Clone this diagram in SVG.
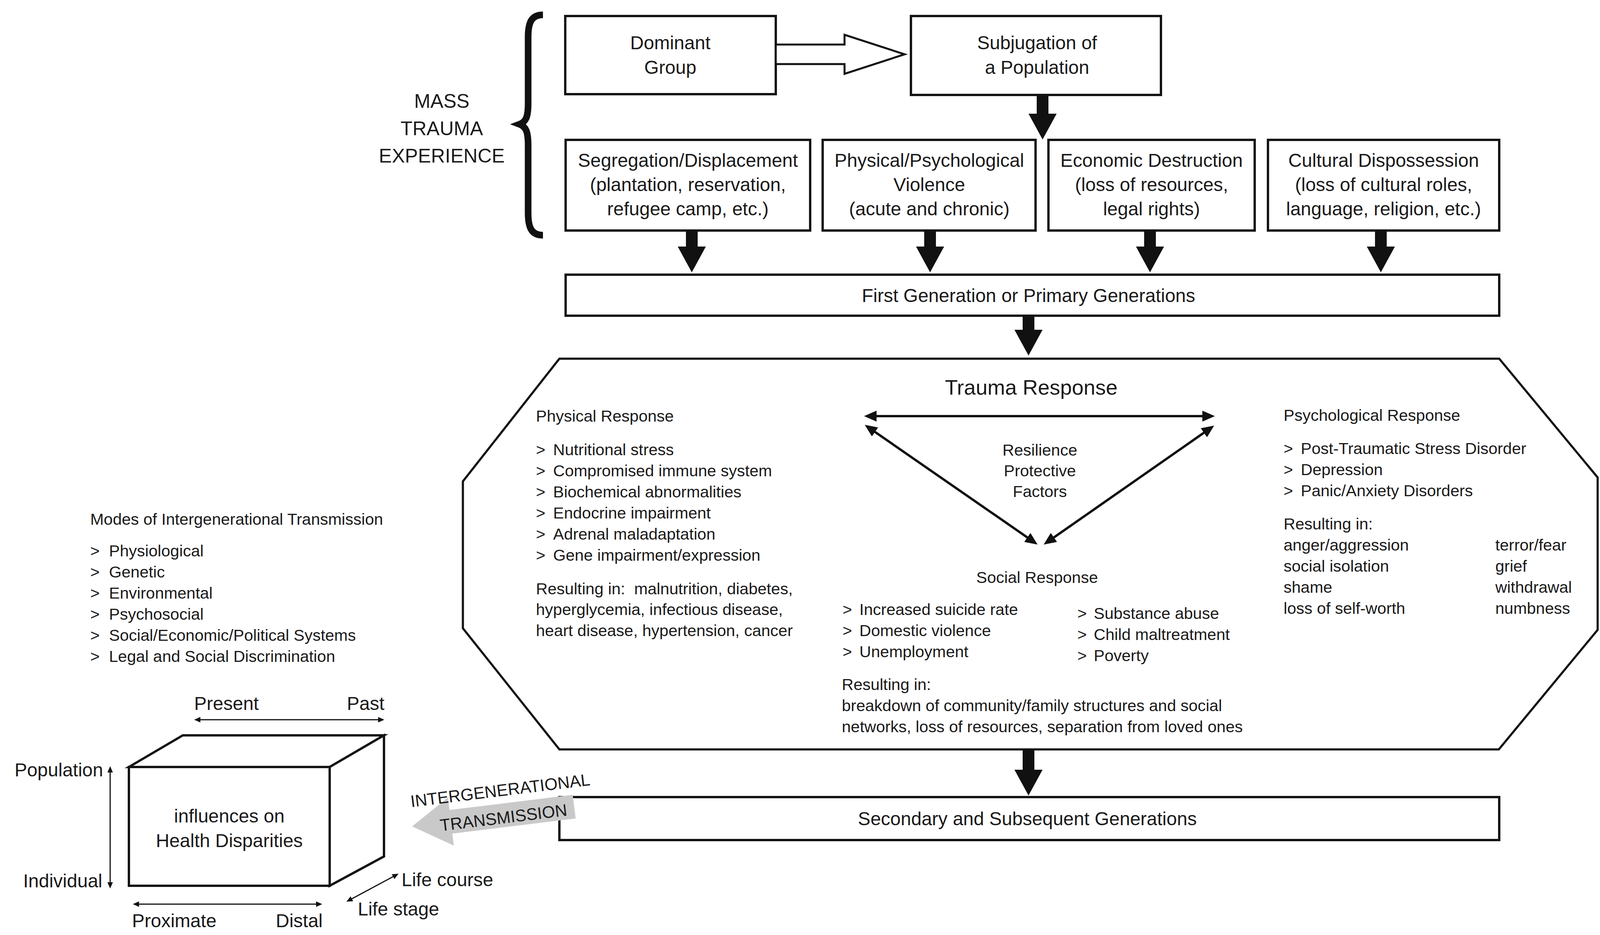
<svg xmlns="http://www.w3.org/2000/svg" width="4110" height="2393" viewBox="0 0 4110 2393">
<style>
.bg{fill:#fff}
.box{fill:#fff;stroke:#141414;stroke-width:6}
.oct{fill:#fff;stroke:#141414;stroke-width:5.5}
.t{font-family:"Liberation Sans",Arial,sans-serif;fill:#1a1a1a}
.bx{font-size:48px;text-anchor:middle}
.bd{font-size:41.5px}
.cb{font-size:48px}
.mid{text-anchor:middle}
.end{text-anchor:end}
.thick{stroke:#111;stroke-width:30;fill:none;marker-end:url(#big)}
.thin{stroke:#111;stroke-width:6;fill:none;marker-start:url(#med);marker-end:url(#med)}
.hair{stroke:#111;stroke-width:3;fill:none;marker-start:url(#sm);marker-end:url(#sm)}
</style>
<defs>
<marker id="big" markerUnits="userSpaceOnUse" markerWidth="66" markerHeight="72" viewBox="0 -36 66 72" refX="2" refY="0" orient="auto"><path d="M0,-36 L66,0 L0,36 Z" fill="#111"/></marker>
<marker id="med" markerUnits="userSpaceOnUse" markerWidth="32" markerHeight="28" viewBox="0 -14 32 28" refX="22" refY="0" orient="auto-start-reverse"><path d="M0,-14 L32,0 L0,14 Z" fill="#111"/></marker>
<marker id="sm" markerUnits="userSpaceOnUse" markerWidth="16" markerHeight="14" viewBox="0 -7 16 14" refX="10" refY="0" orient="auto-start-reverse"><path d="M0,-7 L16,0 L0,7 Z" fill="#111"/></marker>
</defs>
<rect class="bg" x="0" y="0" width="4110" height="2393"/>

<g id="mass-trauma-label">
<path d="M1390,38 C1362,38 1352,55 1352,95 L1352,265 C1352,300 1346,312 1330,318 C1346,324 1352,336 1352,372 L1352,545 C1352,585 1362,602 1390,602" fill="none" stroke="#111" stroke-width="17"/>
<text class="t mid" font-size="50" x="1131" y="276">MASS</text>
<text class="t mid" font-size="50" x="1131" y="346">TRAUMA</text>
<text class="t mid" font-size="50" x="1131" y="416">EXPERIENCE</text>
</g>

<g id="dominant-group">
<rect class="box" x="1447" y="41" width="539" height="200"/>
<text class="t bx" x="1716" y="126">Dominant</text>
<text class="t bx" x="1716" y="189">Group</text>
</g>

<g id="subjugation">
<rect class="box" x="2332" y="41" width="640" height="202"/>
<text class="t bx" x="2655" y="126">Subjugation of</text>
<text class="t bx" x="2655" y="189">a Population</text>
</g>

<g id="segregation">
<rect class="box" x="1448" y="358" width="626" height="232"/>
<text class="t bx" x="1761" y="427">Segregation/Displacement</text>
<text class="t bx" x="1761" y="489">(plantation, reservation,</text>
<text class="t bx" x="1761" y="551">refugee camp, etc.)</text>
</g>

<g id="violence">
<rect class="box" x="2106" y="358" width="545" height="232"/>
<text class="t bx" x="2379" y="427">Physical/Psychological</text>
<text class="t bx" x="2379" y="489">Violence</text>
<text class="t bx" x="2379" y="551">(acute and chronic)</text>
</g>

<g id="economic">
<rect class="box" x="2684" y="358" width="528" height="232"/>
<text class="t bx" x="2948" y="427">Economic Destruction</text>
<text class="t bx" x="2948" y="489">(loss of resources,</text>
<text class="t bx" x="2948" y="551">legal rights)</text>
</g>

<g id="cultural">
<rect class="box" x="3246" y="358" width="592" height="232"/>
<text class="t bx" x="3542" y="427">Cultural Dispossession</text>
<text class="t bx" x="3542" y="489">(loss of cultural roles,</text>
<text class="t bx" x="3542" y="551">language, religion, etc.)</text>
</g>

<g id="first-generation">
<rect class="box" x="1448" y="703" width="2390" height="105"/>
<text class="t bx" x="2633" y="773">First Generation or Primary Generations</text>
</g>

<g id="trauma-response">
<polygon class="oct" points="1432,918 3838,918 4090,1222 4090,1612 3837,1918 1432,1918 1185,1608 1185,1232"/>
<text class="t mid" font-size="54" x="2640" y="1010">Trauma Response</text>

<text class="t bd" x="1372" y="1079">Physical Response</text>
<text class="t bd"><tspan x="1372" y="1165">&gt;</tspan><tspan x="1416" y="1165">Nutritional stress</tspan></text>
<text class="t bd"><tspan x="1372" y="1219">&gt;</tspan><tspan x="1416" y="1219">Compromised immune system</tspan></text>
<text class="t bd"><tspan x="1372" y="1273">&gt;</tspan><tspan x="1416" y="1273">Biochemical abnormalities</tspan></text>
<text class="t bd"><tspan x="1372" y="1327">&gt;</tspan><tspan x="1416" y="1327">Endocrine impairment</tspan></text>
<text class="t bd"><tspan x="1372" y="1381">&gt;</tspan><tspan x="1416" y="1381">Adrenal maladaptation</tspan></text>
<text class="t bd"><tspan x="1372" y="1435">&gt;</tspan><tspan x="1416" y="1435">Gene impairment/expression</tspan></text>
<text class="t bd" x="1372" y="1521">Resulting in:&#160; malnutrition, diabetes,</text>
<text class="t bd" x="1372" y="1574">hyperglycemia, infectious disease,</text>
<text class="t bd" x="1372" y="1628">heart disease, hypertension, cancer</text>

<text class="t bd mid" x="2662" y="1166">Resilience</text>
<text class="t bd mid" x="2662" y="1219">Protective</text>
<text class="t bd mid" x="2662" y="1272">Factors</text>

<text class="t bd" x="3286" y="1077">Psychological Response</text>
<text class="t bd"><tspan x="3286" y="1162">&gt;</tspan><tspan x="3330" y="1162">Post-Traumatic Stress Disorder</tspan></text>
<text class="t bd"><tspan x="3286" y="1216">&gt;</tspan><tspan x="3330" y="1216">Depression</tspan></text>
<text class="t bd"><tspan x="3286" y="1270">&gt;</tspan><tspan x="3330" y="1270">Panic/Anxiety Disorders</tspan></text>
<text class="t bd" x="3286" y="1355">Resulting in:</text>
<text class="t bd" x="3286" y="1409">anger/aggression</text>
<text class="t bd" x="3286" y="1463">social isolation</text>
<text class="t bd" x="3286" y="1517">shame</text>
<text class="t bd" x="3286" y="1571">loss of self-worth</text>
<text class="t bd" x="3828" y="1409">terror/fear</text>
<text class="t bd" x="3828" y="1463">grief</text>
<text class="t bd" x="3828" y="1517">withdrawal</text>
<text class="t bd" x="3828" y="1571">numbness</text>

<text class="t bd mid" x="2655" y="1492">Social Response</text>
<text class="t bd"><tspan x="2157" y="1574">&gt;</tspan><tspan x="2200" y="1574">Increased suicide rate</tspan></text>
<text class="t bd"><tspan x="2157" y="1628">&gt;</tspan><tspan x="2200" y="1628">Domestic violence</tspan></text>
<text class="t bd"><tspan x="2157" y="1682">&gt;</tspan><tspan x="2200" y="1682">Unemployment</tspan></text>
<text class="t bd"><tspan x="2758" y="1584">&gt;</tspan><tspan x="2800" y="1584">Substance abuse</tspan></text>
<text class="t bd"><tspan x="2758" y="1638">&gt;</tspan><tspan x="2800" y="1638">Child maltreatment</tspan></text>
<text class="t bd"><tspan x="2758" y="1692">&gt;</tspan><tspan x="2800" y="1692">Poverty</tspan></text>
<text class="t bd" x="2155" y="1766">Resulting in:</text>
<text class="t bd" x="2155" y="1820">breakdown of community/family structures and social</text>
<text class="t bd" x="2155" y="1874">networks, loss of resources, separation from loved ones</text>
</g>

<g id="secondary-generations">
<rect class="box" x="1432" y="2040" width="2406" height="110"/>
<text class="t bx" x="2630" y="2112">Secondary and Subsequent Generations</text>
</g>

<g id="modes">
<text class="t bd" x="231" y="1343">Modes of Intergenerational Transmission</text>
<text class="t bd"><tspan x="231" y="1424">&gt;</tspan><tspan x="279" y="1424">Physiological</tspan></text>
<text class="t bd"><tspan x="231" y="1478">&gt;</tspan><tspan x="279" y="1478">Genetic</tspan></text>
<text class="t bd"><tspan x="231" y="1532">&gt;</tspan><tspan x="279" y="1532">Environmental</tspan></text>
<text class="t bd"><tspan x="231" y="1586">&gt;</tspan><tspan x="279" y="1586">Psychosocial</tspan></text>
<text class="t bd"><tspan x="231" y="1640">&gt;</tspan><tspan x="279" y="1640">Social/Economic/Political Systems</tspan></text>
<text class="t bd"><tspan x="231" y="1694">&gt;</tspan><tspan x="279" y="1694">Legal and Social Discrimination</tspan></text>
</g>

<g id="cube">
<polygon class="box" points="330,1963 468,1882 983,1882 844,1963"/>
<polygon class="box" points="844,1963 983,1882 983,2192 844,2267"/>
<rect class="box" x="330" y="1963" width="514" height="304"/>
<text class="t cb mid" x="587" y="2105">influences on</text>
<text class="t cb mid" x="587" y="2168">Health Disparities</text>
<text class="t cb" x="497" y="1817">Present</text>
<text class="t cb end" x="984" y="1817">Past</text>
<text class="t cb end" x="264" y="1987">Population</text>
<text class="t cb end" x="262" y="2271">Individual</text>
<text class="t cb" x="338" y="2373">Proximate</text>
<text class="t cb end" x="826" y="2373">Distal</text>
<text class="t cb" x="1028" y="2268">Life course</text>
<text class="t cb" x="916" y="2343">Life stage</text>
<line class="hair" x1="503" y1="1842" x2="978" y2="1842"/>
<line class="hair" x1="282" y1="1967" x2="282" y2="2268"/>
<line class="hair" x1="346" y1="2314" x2="819" y2="2314"/>
<line class="hair" x1="892" y1="2305" x2="1015" y2="2239"/>
</g>

<g id="connectors">
<polygon points="1986,114 2162,114 2162,89 2316,139 2162,189 2162,164 1986,164" fill="#fff" stroke="#111" stroke-width="5" stroke-linejoin="miter"/>
<line class="thick" x1="2669" y1="243" x2="2669" y2="293"/>
<line class="thick" x1="1771" y1="590" x2="1771" y2="633"/>
<line class="thick" x1="2381" y1="590" x2="2381" y2="633"/>
<line class="thick" x1="2944" y1="590" x2="2944" y2="633"/>
<line class="thick" x1="3535" y1="590" x2="3535" y2="633"/>
<line class="thick" x1="2633" y1="808" x2="2633" y2="846"/>
<line class="thick" x1="2633" y1="1918" x2="2633" y2="1972"/>
<line class="thin" x1="2222" y1="1065" x2="3100" y2="1065"/>
<line class="thin" x1="2222" y1="1093" x2="2648" y2="1388"/>
<line class="thin" x1="3100" y1="1095" x2="2680" y2="1388"/>
<g id="intergenerational-transmission" transform="translate(1055,2115) rotate(-7)">
<polygon points="0,0 100,-62 100,-30 418,-30 418,31 100,31 100,62" fill="#c9c9c9"/>
<text class="t mid" font-size="43" x="235" y="21">TRANSMISSION</text>
<text class="t mid" font-size="43" x="235" y="-49">INTERGENERATIONAL</text>
</g>
</g>
</svg>
